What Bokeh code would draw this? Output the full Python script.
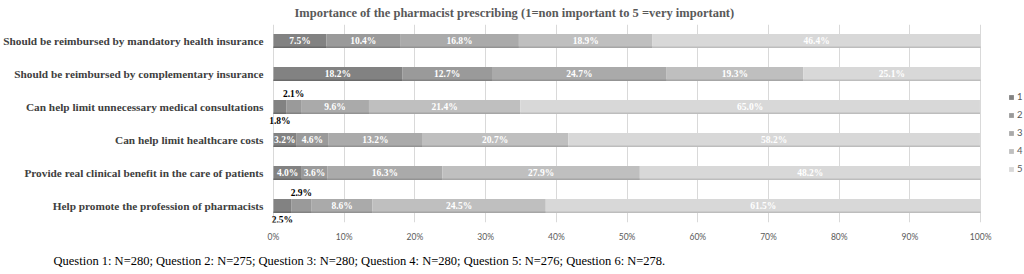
from bokeh.plotting import figure
from bokeh.models import (ColumnDataSource, FactorRange, Range1d, FixedTicker,
                          Legend, LegendItem, Title)
from bokeh.core.properties import value
from bokeh.transform import dodge
from bokeh.embed import file_html
from bokeh.resources import INLINE

questions = [
    "Should be reimbursed by mandatory health insurance",
    "Should be reimbursed by complementary insurance",
    "Can help limit unnecessary medical consultations",
    "Can help limit healthcare costs",
    "Provide real clinical benefit in the care of patients",
    "Help promote the profession of pharmacists",
]
levels = ["1", "2", "3", "4", "5"]
s1 = [7.5, 18.2, 1.8, 3.2, 4.0, 2.5]
s2 = [10.4, 12.7, 2.1, 4.6, 3.6, 2.9]
s3 = [16.8, 24.7, 9.6, 13.2, 16.3, 8.6]
s4 = [18.9, 19.3, 21.4, 20.7, 27.9, 24.5]
s5 = [46.4, 25.1, 65.0, 58.2, 48.2, 61.5]
series = [s1, s2, s3, s4, s5]
colors = ["#828282", "#9a9a9a", "#aaaaaa", "#bfbfbf", "#d8d8d8"]
edge_colors = ["#6a6a6a", "#828282", "#939393", "#a6a6a6", "#bdbdbd"]
tick_values = [0, 10, 20, 30, 40, 50, 60, 70, 80, 90, 100]
tick_labels = ["0%", "10%", "20%", "30%", "40%", "50%", "60%", "70%", "80%", "90%", "100%"]
title_text = "Importance of the pharmacist prescribing (1=non important to 5 =very important)"
note_text = ("Question 1: N=280; Question 2: N=275; Question 3: N=280; "
             "Question 4: N=280; Question 5: N=276; Question 6: N=278.")

data = {"q": questions}
for lv, s in zip(levels, series):
    data[lv] = s
source = ColumnDataSource(data)

p = figure(width=1024, height=274,
           y_range=FactorRange(factors=questions[::-1]),
           x_range=Range1d(-1.13, 106.2),
           output_backend="svg", toolbar_location=None,
           min_border_left=264, min_border_right=0,
           min_border_top=24, min_border_bottom=52)

renderers = p.hbar_stack(levels, y="q", height=0.42, color=colors,
                         line_width=0, source=source)
# darker lower edge of each bar
p.hbar_stack(levels, y=dodge("q", -0.19, range=p.y_range), height=0.045,
             color=edge_colors, line_width=0, source=source)

# data labels
lx, ly, lt, lc, lo = [], [], [], [], []
for i, q in enumerate(questions):
    left = 0.0
    for k, s in enumerate(series):
        v = s[i]
        lx.append(left + v / 2)
        ly.append(q)
        lt.append(f"{v:.1f}%")
        if v < 3.0:
            lc.append("#000000")
            lo.append(14 if k == 0 else -13)
        else:
            lc.append("#ffffff")
            lo.append(0)
        left += v
lab_src = ColumnDataSource(dict(x=lx, y=ly, text=lt, color=lc, off=lo))
p.text(x="x", y="y", text="text", source=lab_src, text_color="color",
       y_offset="off", text_align="center", text_baseline="middle",
       text_font=value("Liberation Serif"), text_font_style="bold",
       text_font_size="9.5px")

# axes
p.xaxis.ticker = FixedTicker(ticks=tick_values)
p.xaxis.major_label_overrides = {t: l for t, l in zip(tick_values, tick_labels)}
p.xaxis.axis_line_color = None
p.xaxis.major_tick_line_color = None
p.xaxis.minor_tick_line_color = None
p.xaxis.major_tick_out = 0
p.xaxis.major_tick_in = 0
p.xaxis.minor_tick_out = 0
p.xaxis.major_label_text_font = "Lato"
p.xaxis.major_label_text_font_size = "8.5px"
p.xaxis.major_label_text_color = "#595959"
p.xaxis.major_label_standoff = 9

p.yaxis.axis_line_color = None
p.yaxis.major_tick_line_color = None
p.yaxis.minor_tick_line_color = None
p.yaxis.major_tick_out = 0
p.yaxis.major_tick_in = 0
p.yaxis.minor_tick_out = 0
p.yaxis.major_label_text_font = "Liberation Serif"
p.yaxis.major_label_text_font_style = "bold"
p.yaxis.major_label_text_font_size = "11.3px"
p.yaxis.major_label_text_color = "#404040"
p.yaxis.major_label_standoff = 2

p.xgrid.grid_line_color = "#d9d9d9"
p.ygrid.grid_line_color = None
p.outline_line_color = None

legend = Legend(items=[LegendItem(label=lv, renderers=[r]) for lv, r in zip(levels, renderers)],
                location=(743, 47), glyph_width=6, glyph_height=6,
                label_text_font="Lato", label_text_font_size="9.5px",
                label_text_color="#595959", label_height=13, spacing=5,
                label_standoff=3, padding=0, margin=0,
                border_line_color=None, background_fill_alpha=0)
p.add_layout(legend, "center")

p.title = Title(text=title_text, align="left", offset=29, standoff=6,
                vertical_align="top",
                text_font="Liberation Serif", text_font_style="bold",
                text_font_size="12.5px", text_color="#595959")
p.add_layout(Title(text=note_text, align="left", offset=-212, standoff=14,
                   text_font="Liberation Serif", text_font_style="normal",
                   text_font_size="12.5px", text_color="#000000"), "below")

open("out.html", "w").write(file_html(p, INLINE))
